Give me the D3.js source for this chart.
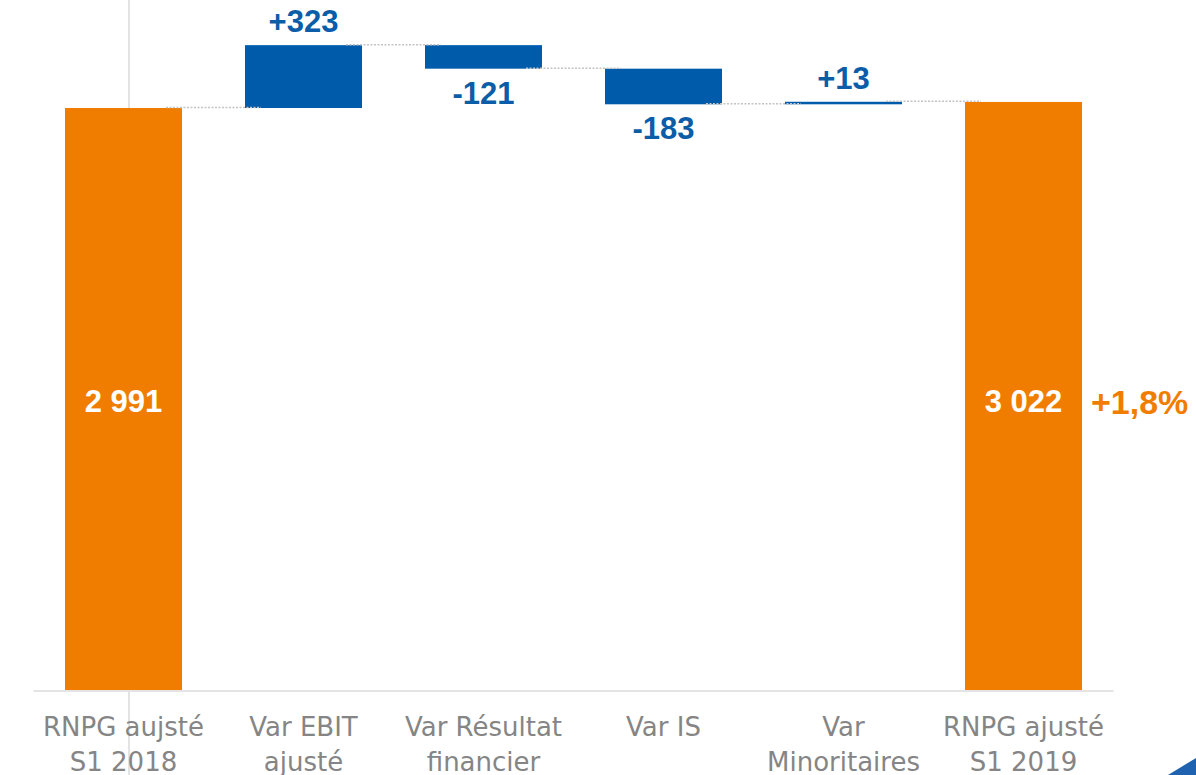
<!DOCTYPE html>
<html>
<head>
<meta charset="utf-8">
<script src="https://cdn.jsdelivr.net/npm/d3@7"></script>
<style>
  html, body { margin: 0; padding: 0; background: #ffffff; }
  svg { display: block; }
</style>
</head>
<body>
<svg id="chart" width="1196" height="775"></svg>
<script>
// ---- data ----
const categories = ["c1", "c2", "c3", "c4", "c5", "c6"];
const categoryLines = [
  ["RNPG aujsté", "S1 2018"],
  ["Var EBIT", "ajusté"],
  ["Var Résultat", "financier"],
  ["Var IS", ""],
  ["Var", "Minoritaires"],
  ["RNPG ajusté", "S1 2019"]
];
const kinds = ["total", "delta", "delta", "delta", "delta", "total"];
const values = [2991, 323, -121, -183, 13, 3022];
const valueLabels = ["2 991", "+323", "-121", "-183", "+13", "3 022"];
const growthLabel = "+1,8%";

// ---- build waterfall ----
let running = 0;
const bars = values.map((v, i) => {
  let y0, y1;
  if (kinds[i] === "total") { y0 = 0; y1 = v; running = v; }
  else { y0 = running; y1 = running + v; running = y1; }
  return { cat: categories[i], kind: kinds[i], v, y0, y1, label: valueLabels[i], lines: categoryLines[i] };
});

const svg = d3.select("#chart");
const W = 1196, H = 775;

const x = d3.scaleBand().domain(categories).range([33.5, 1113.5]).paddingInner(0.35).paddingOuter(0.175);
const y = d3.scaleLinear().domain([0, 3546]).range([690, 0]);
const bw = x.bandwidth();

const ORANGE = "#F07D00";
const BLUE = "#005BAA";
const LBLUE = "#0B5DA8";
const GRAY = "#858585";

const totalMid = d3.min(bars.filter(d => d.kind === "total"), d => d.v) / 2;

// vertical light line
svg.append("line")
  .attr("x1", 129).attr("x2", 129).attr("y1", 0).attr("y2", H)
  .attr("stroke", "#e3e3e3").attr("stroke-width", 2);

// axis line
svg.append("line")
  .attr("x1", x.range()[0]).attr("x2", x.range()[1])
  .attr("y1", y(0) + 1).attr("y2", y(0) + 1)
  .attr("stroke", "#e4e4e4").attr("stroke-width", 2);

// bars
svg.selectAll("rect.bar").data(bars).enter().append("rect")
  .attr("class", "bar")
  .attr("x", d => x(d.cat))
  .attr("width", bw)
  .attr("y", d => y(Math.max(d.y0, d.y1)))
  .attr("height", d => Math.max(2.5, Math.abs(y(d.y0) - y(d.y1))))
  .attr("fill", d => d.kind === "total" ? ORANGE : BLUE);

// connectors
const conns = bars.slice(0, -1).map((d, i) => ({ a: d, b: bars[i + 1], level: d.y1 }));
svg.selectAll("line.conn").data(conns).enter().append("line")
  .attr("class", "conn")
  .attr("x1", d => x(d.a.cat) + bw - 16)
  .attr("x2", d => x(d.b.cat) + 16)
  .attr("y1", d => y(d.level) - 0.5)
  .attr("y2", d => y(d.level) - 0.5)
  .attr("stroke", "#c4c4c4").attr("stroke-width", 1.5)
  .attr("stroke-dasharray", "2,1.5");

// value labels
svg.selectAll("text.val").data(bars).enter().append("text")
  .attr("class", "val")
  .attr("x", d => x(d.cat) + bw / 2)
  .attr("y", d => {
    if (d.kind === "total") return y(totalMid) + 13;
    if (d.v >= 0) return y(d.y1) - 13;
    return y(d.y1) + 13 + 22;
  })
  .attr("text-anchor", "middle")
  .attr("font-family", "'Liberation Sans', Arial, sans-serif")
  .attr("font-weight", "bold")
  .attr("font-size", 31)
  .attr("fill", d => d.kind === "total" ? "#ffffff" : LBLUE)
  .text(d => d.label);

// growth label
const last = bars[bars.length - 1];
svg.append("text")
  .attr("x", x(last.cat) + bw + 9)
  .attr("y", y(totalMid) + 15)
  .attr("font-family", "'Liberation Sans', Arial, sans-serif")
  .attr("font-weight", "bold")
  .attr("font-size", 34)
  .attr("fill", ORANGE)
  .text(growthLabel);

// category labels
const cat = svg.selectAll("text.cat").data(bars).enter().append("text")
  .attr("class", "cat")
  .attr("x", d => x(d.cat) + bw / 2)
  .attr("y", 736)
  .attr("text-anchor", "middle")
  .attr("font-family", "'DejaVu Sans', sans-serif")
  .attr("font-size", 26)
  .attr("fill", GRAY);
cat.selectAll("tspan").data(d => d.lines.map(l => ({ l, cx: x(d.cat) + bw / 2 }))).enter().append("tspan")
  .attr("x", t => t.cx)
  .attr("dy", (t, i) => i === 0 ? 0 : 35)
  .text(t => t.l);

// corner decoration
svg.append("path")
  .attr("d", "M1168,775 L1196,758 L1196,775 Z")
  .attr("fill", "#1f63b0");
</script>
</body>
</html>
